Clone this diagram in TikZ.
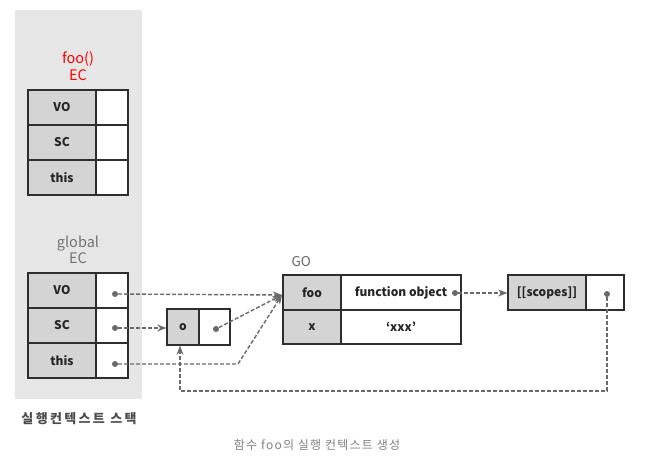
\documentclass[tikz,border=0pt]{standalone}
\usepackage{fontspec}
\setmainfont{Noto Sans CJK KR}
\newfontfamily\widekr[LetterSpace=18]{Noto Sans CJK KR}
\newfontfamily\captionkr[LetterSpace=10]{Noto Sans CJK KR}
\usetikzlibrary{arrows.meta}
\tikzset{>=Stealth}
\definecolor{stackbg}{HTML}{E6E6E6}
\definecolor{keygray}{HTML}{D4D4D4}
\definecolor{linegray}{HTML}{2E2E2E}
\definecolor{ptrgray}{HTML}{6A6A6A}
\tikzset{
  keycell/.style={draw=linegray,fill=keygray,line width=1.1pt,inner sep=0pt,
    font=\fontsize{12}{14}\selectfont\bfseries,text=black!85},
  valcell/.style={draw=linegray,fill=white,line width=1.1pt,inner sep=0pt,
    font=\fontsize{12}{14}\selectfont\bfseries,text=black!85},
  ptrdot/.style={circle,fill=ptrgray,inner sep=0pt,minimum size=6pt},
  ptr/.style={ptrgray,dash pattern=on 4pt off 2pt,line width=1.4pt},
  title/.style={align=center,font=\fontsize{14.5}{16.5}\selectfont}
}

\begin{document}
\begin{tikzpicture}[x=1pt,y=-1pt]
\useasboundingbox (0,0) rectangle (666,473);
\fill[stackbg] (15,10) rectangle (142,399);

\node[title,text=red] (fooec) at (78,66) {foo()\\EC};
\node[keycell,minimum width=68,minimum height=35] (fvo) at (62,107.5) {VO};
\node[valcell,minimum width=32,minimum height=35] (fvov) at (112,107.5) {};
\node[keycell,minimum width=68,minimum height=35] (fsc) at (62,142.5) {SC};
\node[valcell,minimum width=32,minimum height=35] (fscv) at (112,142.5) {};
\node[keycell,minimum width=68,minimum height=35] (fthis) at (62,177.5) {this};
\node[valcell,minimum width=32,minimum height=35] (fthisv) at (112,177.5) {};

\node[title,text=black!55] (globalec) at (78,250) {global\\EC};
\node[keycell,minimum width=68,minimum height=35] (gvo) at (62,290.5) {VO};
\node[valcell,minimum width=32,minimum height=35] (gvov) at (112,290.5) {};
\node[keycell,minimum width=68,minimum height=35] (gsc) at (62,325.5) {SC};
\node[valcell,minimum width=32,minimum height=35] (gscv) at (112,325.5) {};
\node[keycell,minimum width=68,minimum height=35] (gthis) at (62,360.5) {this};
\node[valcell,minimum width=32,minimum height=35] (gthisv) at (112,360.5) {};

\node[keycell,minimum width=32,minimum height=36] (ok) at (183,327) {o};
\node[valcell,minimum width=31,minimum height=36] (ov) at (214.5,327) {};

\node[anchor=west,text=black!60,font=\fontsize{13.5}{15}\selectfont] (golabel) at (288,262) {GO};
\node[keycell,minimum width=58,minimum height=35] (gofoo) at (312,292.5) {foo};
\node[valcell,minimum width=120,minimum height=35] (gofobj) at (401,292.5) {function object\hspace{9pt}};
\node[keycell,minimum width=58,minimum height=34] (gox) at (312,327) {x};
\node[valcell,minimum width=120,minimum height=34] (goxv) at (401,327) {‘xxx’};

\node[keycell,minimum width=78,minimum height=35] (scopes) at (547,292.5) {[[scopes]]};
\node[valcell,minimum width=38,minimum height=35] (scopesv) at (605,292.5) {};

\node[ptrdot] (vodot) at (115,294) {};
\node[ptrdot] (scdot) at (115,328) {};
\node[ptrdot] (thisdot) at (115,364) {};
\node[ptrdot] (odot) at (216,329) {};
\node[ptrdot] (fobjdot) at (455,293) {};
\node[ptrdot] (scopesdot) at (607,294) {};

\coordinate (fooin) at (282,295);
\coordinate (thisbend) at (238,364);
\coordinate (ret) at (180,391);

\draw[ptr,->] (vodot) -- (fooin);
\draw[ptr,->] (scdot) -- (ok.west |- scdot);
\draw[ptr,->] (odot) -- (fooin);
\draw[ptr,->] (thisdot) -- (thisbend) -- (fooin);
\draw[ptr,->] (fobjdot) -- (scopes.west |- fobjdot);
\draw[ptr,->] (scopesdot) -- (scopesdot |- ret) -- (ret) -- (ret |- ok.south);

\node[font=\fontsize{13}{15}\selectfont\widekr\bfseries,text=black!70] (stacklabel) at (79,419) {실행컨텍스트 스택};
\node[font=\fontsize{12}{14}\selectfont\captionkr,text=black!50] (caption) at (317,445) {함수 foo의 실행 컨텍스트 생성};
\end{tikzpicture}
\end{document}
